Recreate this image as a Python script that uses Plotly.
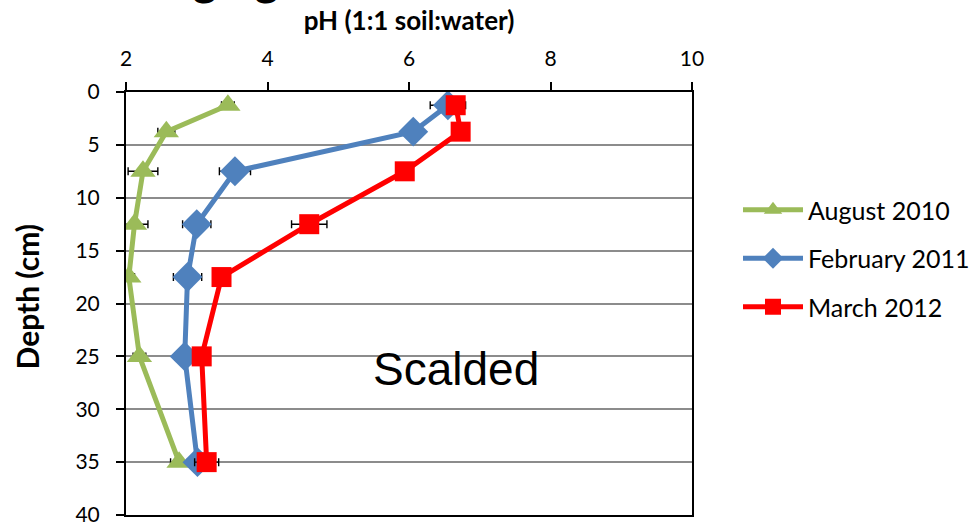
import plotly.graph_objects as go

depth = [1.25, 3.75, 7.5, 12.5, 17.5, 25, 35]

aug_2010 = [3.44, 2.57, 2.24, 2.12, 2.04, 2.19, 2.75]
aug_2010_err = [0.09, 0.12, 0.21, 0.19, 0.08, 0.09, 0.12]

feb_2011 = [6.55, 6.06, 3.54, 3.00, 2.87, 2.83, 3.01]
feb_2011_err = [0.25, 0.08, 0.22, 0.20, 0.20, 0.14, 0.10]

mar_2012 = [6.66, 6.73, 5.94, 4.59, 3.35, 3.07, 3.14]
mar_2012_err = [0.08, 0.05, 0.06, 0.25, 0.06, 0.06, 0.17]

x_ticks = [2, 4, 6, 8, 10]
y_ticks = [0, 5, 10, 15, 20, 25, 30, 35, 40]

FONT = "Lato, 'Open Sans', sans-serif"

series = [
    ("August 2010", aug_2010, aug_2010_err, "#9BBB59", "triangle-up", 22),
    ("February 2011", feb_2011, feb_2011_err, "#4F81BD", "diamond", 23),
    ("March 2012", mar_2012, mar_2012_err, "#FF0000", "square", 20),
]

fig = go.Figure()
for i, (name, xs, errs, color, sym, msize) in enumerate(series):
    fig.add_trace(go.Scatter(
        x=xs, y=depth, name=name, mode="lines+markers",
        line=dict(color=color, width=5),
        marker=dict(symbol=sym, size=msize, color=color),
        error_x=dict(type="data", array=errs, visible=True,
                     color="black", thickness=1.4, width=4),
        legendgroup=f"g{i}",
    ))

fig.add_annotation(
    x=6.66, y=26.2, xref="x", yref="y", text="Scalded", showarrow=False,
    font=dict(family="'Liberation Sans', Arial, sans-serif", size=46, color="black"),
    xanchor="center", yanchor="middle",
)

# y-axis title
fig.add_annotation(
    x=(27 - 126) / 566, y=1 - (296 - 92) / 422, xref="paper", yref="paper",
    text="<b>Depth (cm)</b>", showarrow=False, textangle=-90,
    font=dict(family=FONT, size=30, color="black"),
    xanchor="center", yanchor="middle",
)

# large title, mostly outside the page (only descenders visible)
fig.add_annotation(
    x=(281 - 126) / 566, y=1 + (92 - 7) / 422, xref="paper", yref="paper",
    text="<b>Changing</b>", showarrow=False,
    font=dict(family=FONT, size=46, color="black"),
    xanchor="right", yanchor="bottom",
)

fig.update_layout(
    width=976, height=527,
    margin=dict(l=126, r=284, t=92, b=12, autoexpand=False),
    paper_bgcolor="white", plot_bgcolor="white",
    font=dict(family=FONT, size=21, color="black"),
    showlegend=True,
    legend=dict(
        xref="container", yref="container",
        x=738 / 976, y=1 - 187 / 527, xanchor="left", yanchor="top",
        font=dict(family=FONT, size=25, color="black"),
        tracegroupgap=13, itemwidth=60,
        bgcolor="rgba(0,0,0,0)",
    ),
    xaxis=dict(
        side="top", range=[2, 10], tickvals=x_ticks,
        ticks="outside", ticklen=8, tickwidth=1.5, tickcolor="black",
        showline=True, linecolor="black", linewidth=2, mirror=True,
        showgrid=False, zeroline=False, automargin=False,
        tickfont=dict(size=21), ticklabelstandoff=8,
        title=dict(text="<b>pH (1:1 soil:water)</b>", font=dict(size=26), standoff=6),
    ),
    yaxis=dict(
        range=[40, 0], tickvals=y_ticks,
        ticks="outside", ticklen=8, tickwidth=1.5, tickcolor="black",
        showline=True, linecolor="black", linewidth=2, mirror=True,
        showgrid=True, gridcolor="#8C8C8C", gridwidth=1.5, zeroline=False,
        automargin=False,
        tickfont=dict(size=21), ticklabelstandoff=12,
    ),
)

fig.write_html("out.html")
